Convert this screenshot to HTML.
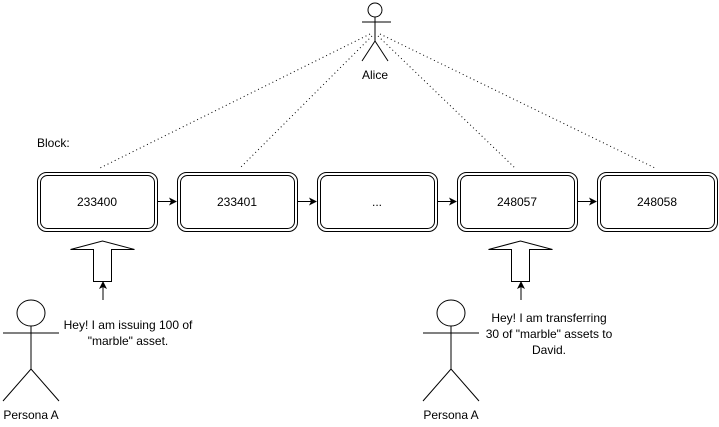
<!DOCTYPE html>
<html><head><style>body{margin:0;background:#fff}</style></head><body>
<svg width="719" height="422" xmlns="http://www.w3.org/2000/svg" font-family="Liberation Sans, Arial, sans-serif" font-size="12">
<defs><marker id="a" markerWidth="8" markerHeight="8" refX="7" refY="4" orient="auto" markerUnits="userSpaceOnUse"><path d="M0,0 L8,4 L0,8 L2,4z" fill="#000"/></marker></defs>
<g stroke="#000" stroke-dasharray="1,3" fill="none">
<line x1="370" y1="34" x2="100" y2="168"/>
<line x1="372" y1="36" x2="240" y2="168"/>
<line x1="378" y1="36" x2="515" y2="168"/>
<line x1="380" y1="34" x2="655" y2="168"/>
</g>
<g stroke="#000" fill="none" stroke-width="1">
<circle cx="375" cy="10" r="7"/>
<line x1="375" y1="17" x2="375" y2="41"/>
<line x1="362" y1="22" x2="391" y2="22"/>
<path d="M362,61 L375,41 L388,61"/>
</g>
<text x="375" y="79" text-anchor="middle">Alice</text>
<text x="37" y="147">Block:</text>
<g stroke="#000" fill="#fff">
<g id="b"><rect x="37.5" y="172.5" width="120" height="59" rx="9"/><rect x="40.5" y="175.5" width="114" height="53" rx="7"/></g>
<use href="#b" x="140"/><use href="#b" x="280"/><use href="#b" x="420"/><use href="#b" x="560"/>
</g>
<g text-anchor="middle">
<text x="97" y="206">233400</text><text x="237" y="206">233401</text><text x="377" y="206">...</text><text x="517" y="206">248057</text><text x="657" y="206">248058</text>
</g>
<g stroke="#000" marker-end="url(#a)">
<line x1="157" y1="201.5" x2="176" y2="201.5"/><line x1="297" y1="201.5" x2="316" y2="201.5"/><line x1="437" y1="201.5" x2="456" y2="201.5"/><line x1="577" y1="201.5" x2="596" y2="201.5"/>
<line x1="103" y1="300" x2="103" y2="282"/><line x1="521" y1="300" x2="521" y2="282"/>
</g>
<g stroke="#000" fill="#fff">
<path d="M93.5,281.5 V249.5 H70.5 L102.5,241 L134.5,249.5 H111.5 V281.5Z"/>
<path d="M511.5,281.5 V249.5 H488.5 L520.5,241 L552.5,249.5 H529.5 V281.5Z"/>
</g>
<g stroke="#000" fill="none">
<g id="p"><ellipse cx="31" cy="313" rx="14" ry="13"/><line x1="31" y1="326" x2="31" y2="369"/><line x1="3" y1="333" x2="59" y2="333"/><path d="M3,401 L31,369 L59,401"/></g>
<use href="#p" x="420"/>
</g>
<text x="31" y="419" text-anchor="middle">Persona A</text>
<text x="451" y="419" text-anchor="middle">Persona A</text>
<g text-anchor="middle">
<text x="128" y="329">Hey! I am issuing 100 of</text><text x="128" y="345">"marble" asset.</text>
<text x="549" y="322">Hey! I am transferring</text><text x="549" y="338">30 of "marble" assets to</text><text x="549" y="354">David.</text>
</g>
</svg>
</body></html>
